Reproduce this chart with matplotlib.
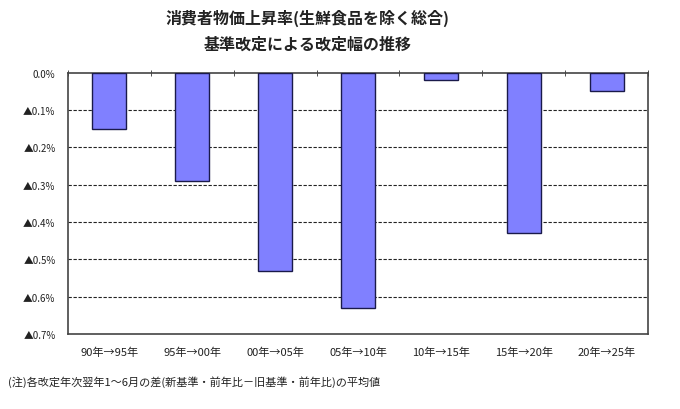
import matplotlib
matplotlib.use("Agg")
import matplotlib.pyplot as plt
from matplotlib.ticker import FixedLocator, FuncFormatter

plt.rcParams['font.family'] = ['Noto Sans CJK JP', 'DejaVu Sans']

# data (percentage points)
periods = ['90年→95年', '95年→00年', '00年→05年', '05年→10年',
           '10年→15年', '15年→20年', '20年→25年']
revision = [-0.15, -0.29, -0.53, -0.63, -0.02, -0.43, -0.05]
yticks = [0.0, -0.1, -0.2, -0.3, -0.4, -0.5, -0.6, -0.7]

title = '消費者物価上昇率(生鮮食品を除く総合)\n基準改定による改定幅の推移'
note = '(注)各改定年次翌年1～6月の差(新基準・前年比－旧基準・前年比)の平均値'


def pct_label(v, pos):
    if abs(v) < 1e-9:
        return '0.0%'
    return '▲%.1f%%' % abs(v)


fig = plt.figure(figsize=(6.8, 4.1), dpi=100)
ax = fig.add_axes([0.1, 0.183, 0.853, 0.637])

x = range(len(periods))
ax.bar(x, revision, width=0.41, color='#8080ff', edgecolor='#1a1a4a',
       linewidth=1.0, zorder=3)

ax.set_xlim(-0.5, len(periods) - 0.5)
ax.set_ylim(-0.7, 0.0)

# grid lines (dashed) at every 0.1 step
for v in yticks[1:-1]:
    ax.axhline(v, color='#222222', linestyle=(0, (3, 1.5)), linewidth=0.8, zorder=1)

ax.yaxis.set_major_locator(FixedLocator(yticks))
ax.yaxis.set_major_formatter(FuncFormatter(pct_label))
ax.tick_params(axis='y', length=0, labelsize=7, pad=9, colors='#222222')

ax.set_xticks(list(x))
ax.set_xticklabels(periods, fontsize=8)
ax.tick_params(axis='x', which='major', length=0, pad=9, colors='#222222')
ax.xaxis.set_minor_locator(FixedLocator([i + 0.5 for i in range(-1, len(periods))]))
ax.tick_params(axis='x', which='minor', top=True, bottom=False,
               direction='inout', length=4, color='#333333')

for side in ['left', 'right', 'bottom', 'top']:
    ax.spines[side].set_color('#444444')
    ax.spines[side].set_linewidth(1.2)

fig.text(0.453, 0.975, title, ha='center', va='top', fontsize=11.5,
         fontweight='bold', linespacing=1.75, color='#222222')
fig.text(0.012, 0.068, note, ha='left', va='center', fontsize=8, color='#222222')

fig.savefig('out.png', dpi=100)
